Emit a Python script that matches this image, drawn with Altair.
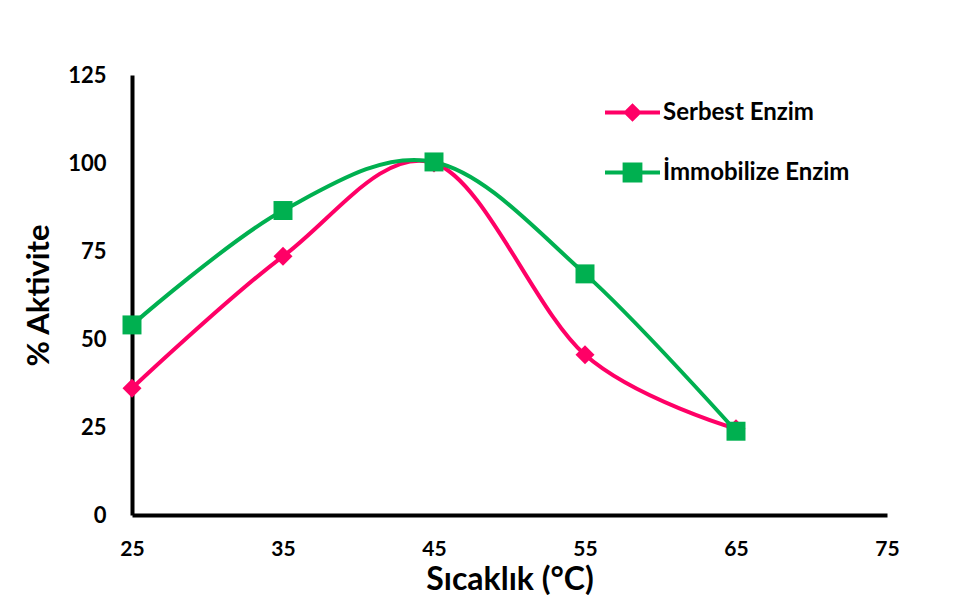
import altair as alt
import pandas as pd

temps = [25, 35, 45, 55, 65]
serbest = [36, 73.5, 100, 45.5, 24.5]
immobilize = [54, 86.5, 100.3, 68.5, 23.8]
series_names = ["Serbest Enzim", "İmmobilize Enzim"]
colors = ["#FF0066", "#00B050"]
shapes = ["diamond", "square"]

rows = []
for name, vals in zip(series_names, [serbest, immobilize]):
    for t, v in zip(temps, vals):
        rows.append({"temp": t, "value": v, "series": name})
df = pd.DataFrame(rows)

FONT = "Lato"

x = alt.X("temp:Q", scale=alt.Scale(domain=[25, 75], nice=False),
          axis=alt.Axis(values=[25, 35, 45, 55, 65, 75], title="Sıcaklık (°C)",
                        grid=False, ticks=False, domain=True, domainColor="black",
                        domainWidth=4, labelFont=FONT, labelFontSize=21,
                        labelFontWeight="bold", labelColor="black", labelPadding=23,
                        labelFlush=False,
                        titleFont=FONT, titleFontSize=32, titleFontWeight="bold",
                        titleColor="black", titlePadding=5))
y = alt.Y("value:Q", scale=alt.Scale(domain=[0, 125], nice=False),
          axis=alt.Axis(values=[0, 25, 50, 75, 100, 125], title="% Aktivite",
                        grid=False, ticks=False, domain=True, domainColor="black",
                        domainWidth=4, labelFont=FONT, labelFontSize=22,
                        labelFontWeight="bold", labelColor="black", labelPadding=26,
                        labelFlush=False,
                        titleFont=FONT, titleFontSize=31, titleFontWeight="bold",
                        titleColor="black", titlePadding=12))

color_scale = alt.Scale(domain=series_names, range=colors)

line = alt.Chart(df).mark_line(interpolate="cardinal", strokeWidth=4).encode(
    x=x, y=y,
    color=alt.Color("series:N", scale=color_scale, legend=None),
    detail="series:N",
)

points = alt.Chart(df).mark_point(filled=True, opacity=1, size=360).encode(
    x=x, y=y,
    color=alt.Color("series:N", scale=color_scale, legend=None),
    shape=alt.Shape("series:N", scale=alt.Scale(domain=series_names, range=shapes),
                    legend=None),
)

legend_paths = [
    "M-1,-0.075H1V0.075H-1Z M-0.34,0L0,-0.34L0.34,0L0,0.34Z",
    "M-1,-0.075H1V0.075H-1Z M-0.36,-0.36H0.36V0.36H-0.36Z",
]

leg_props = dict(title=None, orient="none", legendX=473, legendY=10,
                 padding=0, symbolSize=3025, rowPadding=20, labelOffset=3,
                 labelLimit=400,
                 labelFont=FONT, labelFontSize=24, labelFontWeight="bold",
                 labelColor="black", symbolOpacity=1, symbolStrokeWidth=0)

legend_layer = alt.Chart(df).mark_point(filled=True, opacity=1).encode(
    x=x, y=y,
    color=alt.Color("series:N", scale=color_scale, legend=alt.Legend(**leg_props)),
    shape=alt.Shape("series:N", scale=alt.Scale(domain=series_names, range=legend_paths),
                    legend=alt.Legend(**leg_props)),
).transform_filter("false")

chart = (line + points + legend_layer).resolve_scale(
    color="independent", shape="independent"
).properties(
    width=755, height=440,
    autosize=alt.AutoSizeParams(type="none"),
    padding={"left": 124, "top": 67, "right": 80, "bottom": 80},
    background="white",
).configure_view(stroke=None)

chart.save("out.html", embed_options={"renderer": "svg", "actions": False})
